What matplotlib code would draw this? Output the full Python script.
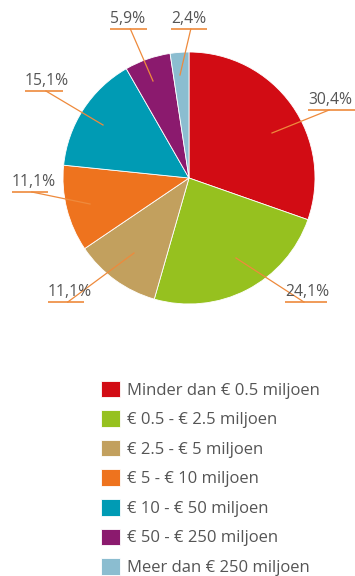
import matplotlib.pyplot as plt

W, H = 355, 576

labels = ["Minder dan € 0.5 miljoen", "€ 0.5 - € 2.5 miljoen", "€ 2.5 - € 5 miljoen",
          "€ 5 - € 10 miljoen", "€ 10 - € 50 miljoen", "€ 50 - € 250 miljoen",
          "Meer dan € 250 miljoen"]
shares = [30.4, 24.1, 11.1, 11.1, 15.1, 5.9, 2.4]
pct_text = ["30,4%", "24,1%", "11,1%", "11,1%", "15,1%", "5,9%", "2,4%"]
colors = ["#D20C14", "#96C11F", "#C2A05E", "#EE731E", "#009BB4", "#8B1A6E", "#8BBDD0"]

# label text position (left x, centre y), underline end, leader end inside slice
label_pos = [(308, 100, 355, (272, 133)),
             (285, 292, 327, (236, 258)),
             (48, 292, 84, (134, 253)),
             (12, 182, 48, (90, 204)),
             (25, 81, 63, (103, 125)),
             (110, 19, 147, (153, 81)),
             (171, 19, 207, (180, 75))]

plt.rcParams['font.family'] = ['Open Sans', 'DejaVu Sans']

fig = plt.figure(figsize=(W / 100, H / 100), dpi=100)
ax = fig.add_axes([0, 0, 1, 1])

wedges, _ = ax.pie(shares, colors=colors, startangle=90, counterclock=False,
                   center=(189, H - 178), radius=126, frame=True,
                   wedgeprops=dict(linewidth=0.6, edgecolor='white'))
ax.set_xlim(0, W)
ax.set_ylim(0, H)
ax.set_aspect('equal')
ax.axis('off')

line_col = "#EE8A3C"
for txt, (x0, ty, x1, (px, py)) in zip(pct_text, label_pos):
    ax.text(x0, H - ty, txt, fontsize=11.3, color="#555555", ha='left', va='center')
    uy = H - (ty + 10)
    ax.plot([x0, x1], [uy, uy], color=line_col, lw=1.2, solid_capstyle='butt')
    sx = x0 + (x1 - x0) * 0.45 if x0 > 189 else x0 + (x1 - x0) * 0.55
    ax.plot([sx, px], [uy, H - py], color=line_col, lw=0.9)

ax.legend(wedges, labels, loc='upper left', bbox_to_anchor=(94 / W, 1 - 374 / H),
          frameon=False, fontsize=12, labelcolor="#555555",
          handlelength=1.15, handleheight=1.15, handletextpad=0.45,
          labelspacing=0.7, borderaxespad=0)

fig.savefig("out.png", dpi=100)
